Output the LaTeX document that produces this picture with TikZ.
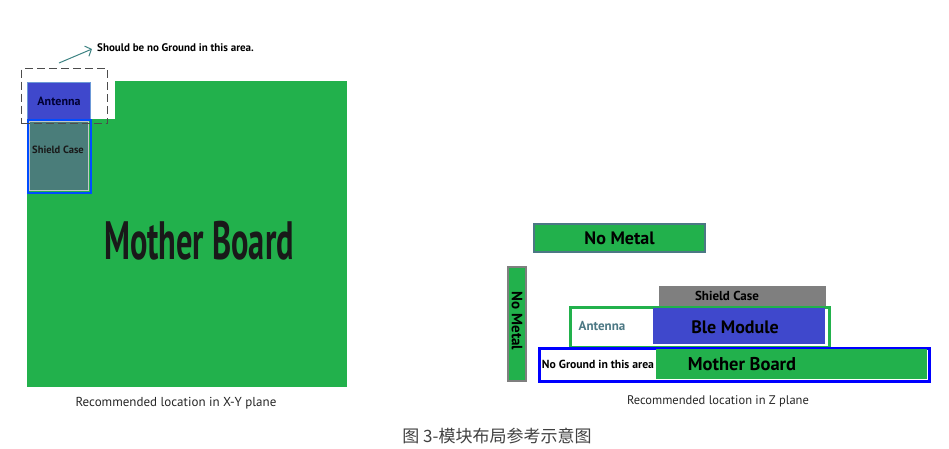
\documentclass[tikz,border=0pt]{standalone}
\usepackage{fontspec}
\usepackage{graphicx}
\setmainfont{PT Sans}
\newfontfamily\cjk{Noto Sans CJK SC}
\usetikzlibrary{positioning,arrows.meta}
\definecolor{boardgreen}{RGB}{34,177,76}
\definecolor{bleblue}{RGB}{63,72,204}
\definecolor{shieldteal}{RGB}{74,125,122}
\definecolor{casegray}{RGB}{127,127,127}
\definecolor{edgeteal}{RGB}{76,120,132}
\definecolor{arrowteal}{RGB}{60,130,130}
\tikzstyle{plate} = [rectangle, inner sep=0pt, anchor=north west, font=\bfseries]
\tikzstyle{board} = [plate, fill=boardgreen]
\tikzstyle{label} = [inner sep=0pt, font=\bfseries]
\tikzstyle{caption} = [inner sep=0pt, font=\fontsize{13}{15}\selectfont, text=black!85]
\tikzstyle{arrow} = [-{Straight Barb[length=5pt,width=11pt]}, arrowteal, line width=1pt]
\newcommand{\fsz}[1]{\fontsize{#1}{#1}\selectfont}

\begin{document}
\begin{tikzpicture}[x=1pt,y=-1pt]
\useasboundingbox (0,0) rectangle (949,448);

% X-Y plane
\node[board, minimum width=320pt, minimum height=306pt] (board) at (27,81) {};
\node[plate, fill=white, minimum width=88pt, minimum height=38pt] (notch) at (27,81) {};
\node[plate, fill=bleblue, draw=cyan!50!blue!60, line width=1pt,
      minimum width=63pt, minimum height=37pt, text=blue!20!black,
      font=\bfseries\fsz{12}] (antenna) at (27,82) {Antenna};
\node[plate, draw=blue!70!cyan, line width=1.5pt, minimum width=63pt,
      minimum height=73pt] (shieldrim) at (27,119) {};
\node[plate, fill=shieldteal, draw=gray!45, line width=1pt, minimum width=59pt,
      minimum height=69pt] (shield) at (29,121) {};
\node[label, text=black!90, font=\bfseries\fsz{10.5}] (shieldtext) at (58,150) {Shield Case};
\node[plate, draw=black!70, dashed, dash pattern=on 8pt off 4pt, line width=1.2pt,
      minimum width=86pt, minimum height=55pt] (zone) at (21,68) {};
\node[label, text=black!90, font=\bfseries\fsz{54}] (bigboard) at (199,241)
      {\scalebox{0.6}[1]{Mother Board}};

\node[label, anchor=west, font=\bfseries\fsz{11}] (warn) at (97,48) {Should be no Ground in this area.};
\coordinate (tail) at (59,63);
\draw[arrow] (tail) -- ([xshift=-5pt,yshift=-1pt]warn.west);

% Z plane
\node[board, draw=edgeteal, line width=2pt, minimum width=171pt, minimum height=28pt,
      font=\bfseries\fsz{18}] (topmetal) at (533,223) {No Metal};
\node[board, draw=casegray, line width=2pt, minimum width=18pt,
      minimum height=114pt] (sidemetal) at (507,266) {};
\node[label, rotate=-90, font=\bfseries\fsz{15}] (sidetext) at ([yshift=3pt]sidemetal.center) {No Metal};
\node[plate, fill=casegray, minimum width=167pt, minimum height=20pt] (case) at (659,286) {};
\node[label, font=\bfseries\fsz{13}] (casetext) at (727,296) {Shield Case};
\node[plate, fill=white, draw=boardgreen, line width=2.5pt, minimum width=259pt,
      minimum height=40pt] (module) at (569,306) {};
\node[label, text=edgeteal, font=\bfseries\fsz{13}] (zantenna) at (602,326) {Antenna};
\node[plate, fill=bleblue, minimum width=172pt, minimum height=36pt] (ble) at (653,308) {};
\node[label, font=\bfseries\fsz{18}] (bletext) at (735,327) {Ble Module};
\node[plate, fill=white, draw=blue, line width=3pt, minimum width=390pt,
      minimum height=33pt] (zboard) at (538,347) {};
\node[board, minimum width=271pt, minimum height=30pt] (zgreen) at (656,349) {};
\node[label, font=\bfseries\fsz{18.5}] (zboardtext) at (742,364) {Mother Board};
\node[label, font=\bfseries\fsz{11.7}] (noground) at (598,364) {No Ground in this area};

% captions
\node[caption] (capxy) at (176,403) {Recommended location in X-Y plane};
\node[caption, font=\fsz{12.5}] (capz) at (718,401) {Recommended location in Z plane};
\node[caption, font=\cjk\fsz{17}, text=black!75] (capfig) at (497,436) {图 3-模块布局参考示意图};
\end{tikzpicture}
\end{document}
